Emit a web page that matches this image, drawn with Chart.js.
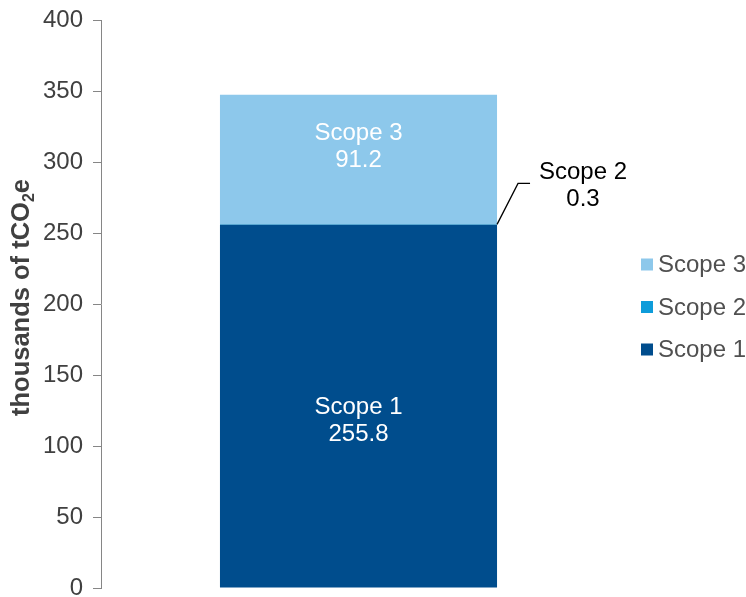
<!DOCTYPE html>
<html>
<head>
<meta charset="utf-8">
<script src="https://cdn.jsdelivr.net/npm/chart.js@4.4.1/dist/chart.umd.min.js"></script>
<style>
html,body{margin:0;padding:0;background:#fff;}
#wrap{position:relative;width:746px;height:597px;}
</style>
</head>
<body>
<div id="wrap"><canvas id="c" width="746" height="597"></canvas></div>
<script>
const categories = [''];
const seriesNames = ['Scope 1', 'Scope 2', 'Scope 3'];
const scope1 = [255.8];
const scope2 = [0.3];
const scope3 = [91.2];
const yTicks = [0, 50, 100, 150, 200, 250, 300, 350, 400];
const colors = ['#004D8D', '#0E9CDA', '#8DC8EB'];
const FONT = '"Liberation Sans", Arial, sans-serif';

const overlay = {
  id: 'overlay',
  afterDatasetsDraw(chart) {
    const ctx = chart.ctx;
    ctx.save();
    // data labels inside bars
    const inside = {0: 7.5, 2: -19.5};
    const pitch = 27;
    chart.data.datasets.forEach((ds, i) => {
      const el = chart.getDatasetMeta(i).data[0];
      const val = ds.data[0];
      const name = ds.label;
      if (i in inside) {
        const cy = (el.y + el.base) / 2;
        ctx.fillStyle = '#ffffff';
        ctx.font = '24px ' + FONT;
        ctx.textAlign = 'center';
        ctx.textBaseline = 'alphabetic';
        ctx.fillText(name, el.x, cy + inside[i]);
        ctx.fillText(val.toFixed(1), el.x, cy + inside[i] + pitch);
      } else {
        // callout
        const right = el.x + el.width / 2;
        const y0 = el.y;
        ctx.strokeStyle = '#000';
        ctx.lineWidth = 1.3;
        ctx.beginPath();
        ctx.moveTo(right, y0);
        ctx.lineTo(right + 21, y0 - 41);
        ctx.lineTo(right + 33, y0 - 41);
        ctx.stroke();
        ctx.fillStyle = '#000';
        ctx.font = '24px ' + FONT;
        ctx.textAlign = 'center';
        ctx.textBaseline = 'alphabetic';
        ctx.fillText(name, right + 86, y0 - 45.5);
        ctx.fillText(val.toFixed(1), right + 86, y0 - 45.5 + pitch);
      }
    });
    // legend (reverse order)
    const order = [2, 1, 0];
    const rowsY = [264.5, 307, 349.5];
    order.forEach((i, r) => {
      const ds = chart.data.datasets[i];
      ctx.fillStyle = ds.backgroundColor;
      ctx.fillRect(641, rowsY[r] - 6, 12, 12);
      ctx.fillStyle = '#505050';
      ctx.font = '24px ' + FONT;
      ctx.textAlign = 'left';
      ctx.textBaseline = 'middle';
      ctx.fillText(ds.label, 658, rowsY[r] + 1);
    });
    // y axis title with subscript
    ctx.translate(29, 297.5);
    ctx.rotate(-Math.PI / 2);
    ctx.fillStyle = '#404040';
    ctx.textBaseline = 'alphabetic';
    ctx.textAlign = 'left';
    const big = 'bold 25.5px ' + FONT, small = 'bold 16px ' + FONT;
    const p1 = 'thousands of tCO', p2 = '2', p3 = 'e';
    ctx.font = big; const w1 = ctx.measureText(p1).width, w3 = ctx.measureText(p3).width;
    ctx.font = small; const w2 = ctx.measureText(p2).width;
    let x = -(w1 + w2 + w3) / 2;
    ctx.font = big; ctx.fillText(p1, x, 0); x += w1;
    ctx.font = small; ctx.fillText(p2, x, 4.5); x += w2;
    ctx.font = big; ctx.fillText(p3, x, 0);
    ctx.restore();
  }
};

new Chart(document.getElementById('c'), {
  type: 'bar',
  data: {
    labels: categories,
    datasets: [
      {label: seriesNames[0], data: scope1, backgroundColor: colors[0]},
      {label: seriesNames[1], data: scope2, backgroundColor: colors[1]},
      {label: seriesNames[2], data: scope3, backgroundColor: colors[2]}
    ]
  },
  options: {
    responsive: false,
    animation: false,
    devicePixelRatio: 1,
    layout: {padding: {left: 0, top: 20, right: 130, bottom: 9}},
    datasets: {bar: {categoryPercentage: 1, barPercentage: 0.538, borderWidth: 0}},
    plugins: {legend: {display: false}, tooltip: {enabled: false}},
    scales: {
      x: {stacked: true, display: false},
      y: {
        stacked: true,
        min: 0, max: 400,
        afterBuildTicks(scale) { scale.ticks = yTicks.map(v => ({value: v})); },
        afterFit(scale) { scale.width = 101; scale.paddingTop = 0; scale.paddingBottom = 0; },
        ticks: {color: '#404040', font: {size: 24, family: FONT}, padding: 10},
        grid: {drawOnChartArea: false, tickLength: 8, color: '#868686', lineWidth: 1},
        border: {display: true, color: '#868686', width: 1}
      }
    }
  },
  plugins: [overlay]
});
</script>
</body>
</html>
